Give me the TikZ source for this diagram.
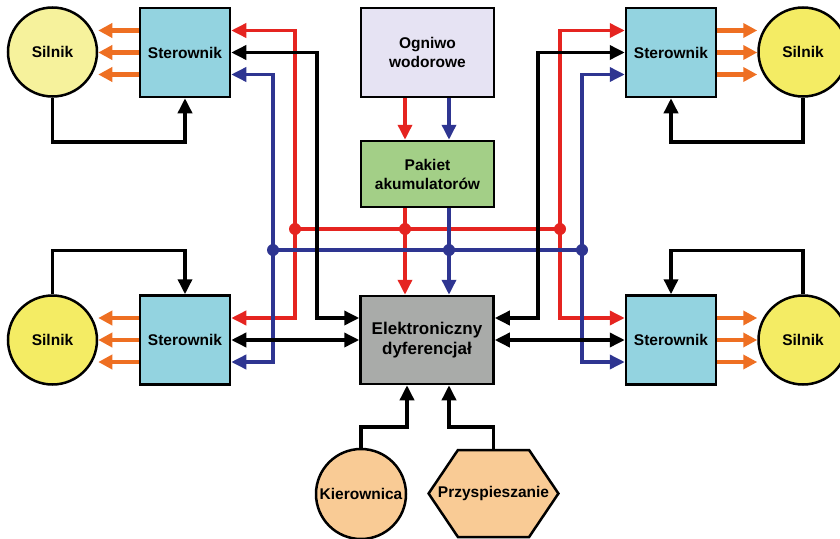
\documentclass[tikz,border=0pt]{standalone}
\usepackage{fontspec}
\setmainfont{Liberation Sans}
\usetikzlibrary{arrows.meta,shapes.symbols}
\definecolor{ctrlcol}{HTML}{93D3E0}
\definecolor{motorpale}{HTML}{F6F29C}
\definecolor{motorcol}{HTML}{F4EC64}
\definecolor{cellcol}{HTML}{E6E3F3}
\definecolor{packcol}{HTML}{A3CF87}
\definecolor{diffcol}{HTML}{A9ABA9}
\definecolor{peachcol}{HTML}{F9CB95}
\definecolor{orangecol}{HTML}{EE6F22}
\definecolor{redcol}{HTML}{E52420}
\definecolor{bluecol}{HTML}{2E3591}
\begin{document}
\begin{tikzpicture}[
x=1pt, y=-1pt,
box/.style={
draw,
line width=2.5pt,
align=center,
font=\bfseries\fontsize{15.5}{19}\selectfont,
inner sep=0pt
},
ctrl/.style={box, fill=ctrlcol, minimum width=90pt, minimum height=89pt},
motor/.style={box, circle, fill=motorcol, minimum size=89pt},
wire/.style={line width=3.5pt, -{Triangle[length=15pt,width=14pt]}},
both/.style={line width=3.5pt, {Triangle[length=15pt,width=14pt]}-{Triangle[length=15pt,width=14pt]}},
power/.style={line width=4.5pt, orangecol, -{Triangle[length=14pt,width=14pt]}},
dot/.style={circle, fill, inner sep=0pt, minimum size=12pt}
]
\useasboundingbox (0,0) rectangle (840,538);
% motors and controllers
\node[motor, fill=motorpale] (mtl) at (52.5,52) {Silnik};
\node[motor] (mtr) at (803,52) {Silnik};
\node[motor] (mbl) at (52.5,340) {Silnik};
\node[motor] (mbr) at (803,340) {Silnik};
\node[ctrl] (stl) at (185,52.5) {Sterownik};
\node[ctrl] (str) at (671,52.5) {Sterownik};
\node[ctrl] (sbl) at (185,340) {Sterownik};
\node[ctrl] (sbr) at (671,340) {Sterownik};
% middle column
\node[box, fill=cellcol, minimum width=133pt, minimum height=89pt] (ogniwo) at (427.5,52.5) {Ogniwo\\wodorowe};
\node[box, fill=packcol, minimum width=133pt, minimum height=66pt] (pakiet) at (427.5,174) {Pakiet\\akumulatorów};
\node[box, fill=diffcol, minimum width=133pt, minimum height=88pt, font=\bfseries\fontsize{17}{20}\selectfont] (elek) at (427,340) {Elektroniczny\\dyferencjał};
\node[box, circle, fill=peachcol, minimum size=90pt] (kier) at (361,494) {Kierownica};
\node[box, fill=peachcol, signal, signal to=west and east, signal pointer angle=112,
inner xsep=-20pt, minimum height=87pt] (przysp) at (493.5,493.5) {Przyspieszanie};
% bus junctions
\coordinate (rdl) at (295,229);
\coordinate (rdm) at (405,229);
\coordinate (rdr) at (560,229);
\coordinate (bdl) at (273,250);
\coordinate (bdm) at (449,250);
\coordinate (bdr) at (582,250);
\coordinate (kl) at (317,318);
\coordinate (kr) at (538,318);
% power to motors
\foreach \s/\m/\d/\e in {stl/mtl/west/east, sbl/mbl/west/east, str/mtr/east/west, sbr/mbr/east/west}{
\foreach \dy in {22,0,-22}{
\draw[power] ([yshift=\dy pt]\s.\d) -- ([yshift=\dy pt]\s.\d -| \m.\e);
}
}
% red lines
\begin{scope}[redcol]
\draw[wire] (ogniwo.south -| rdm) -- (pakiet.north -| rdm);
\draw[line width=3.5pt] (rdl) -- (rdr);
\draw[wire] (pakiet.south -| rdm) -- (elek.north -| rdm);
\draw[wire] (rdl) |- ([yshift=22pt]stl.east);
\draw[wire] (rdl) |- ([yshift=22pt]sbl.east);
\draw[wire] (rdr) |- ([yshift=22pt]str.west);
\draw[wire] (rdr) |- ([yshift=22pt]sbr.west);
\node[dot] (jrl) at (rdl) {};
\node[dot] (jrm) at (rdm) {};
\node[dot] (jrr) at (rdr) {};
\end{scope}
% blue lines
\begin{scope}[bluecol]
\draw[wire] (ogniwo.south -| bdm) -- (pakiet.north -| bdm);
\draw[line width=3.5pt] (bdl) -- (bdr);
\draw[wire] (pakiet.south -| bdm) -- (elek.north -| bdm);
\draw[wire] (bdl) |- ([yshift=-22pt]stl.east);
\draw[wire] (bdl) |- ([yshift=-22pt]sbl.east);
\draw[wire] (bdr) |- ([yshift=-22pt]str.west);
\draw[wire] (bdr) |- ([yshift=-22pt]sbr.west);
\node[dot] (jbl) at (bdl) {};
\node[dot] (jbm) at (bdm) {};
\node[dot] (jbr) at (bdr) {};
\end{scope}
% black lines
\draw[both] (stl.east) -| (kl) -- (kl -| elek.west);
\draw[both] (str.west) -| (kr) -- (kr -| elek.east);
\draw[both] (sbl.east) -- (elek.west);
\draw[both] (sbr.west) -- (elek.east);
\draw[wire] (mtl.south) -- ++(0,44) -| (stl.south);
\draw[wire] (mtr.south) -- ++(0,44) -| (str.south);
\draw[wire] (mbl.north) -- ++(0,-44) -| (sbl.north);
\draw[wire] (mbr.north) -- ++(0,-44) -| (sbr.north);
\draw[wire] (kier.north) -- ++(0,-21) -| ([xshift=-20pt]elek.south);
\draw[wire] (przysp.north) -- ++(0,-22) -| ([xshift=22pt]elek.south);
\end{tikzpicture}
\end{document}
